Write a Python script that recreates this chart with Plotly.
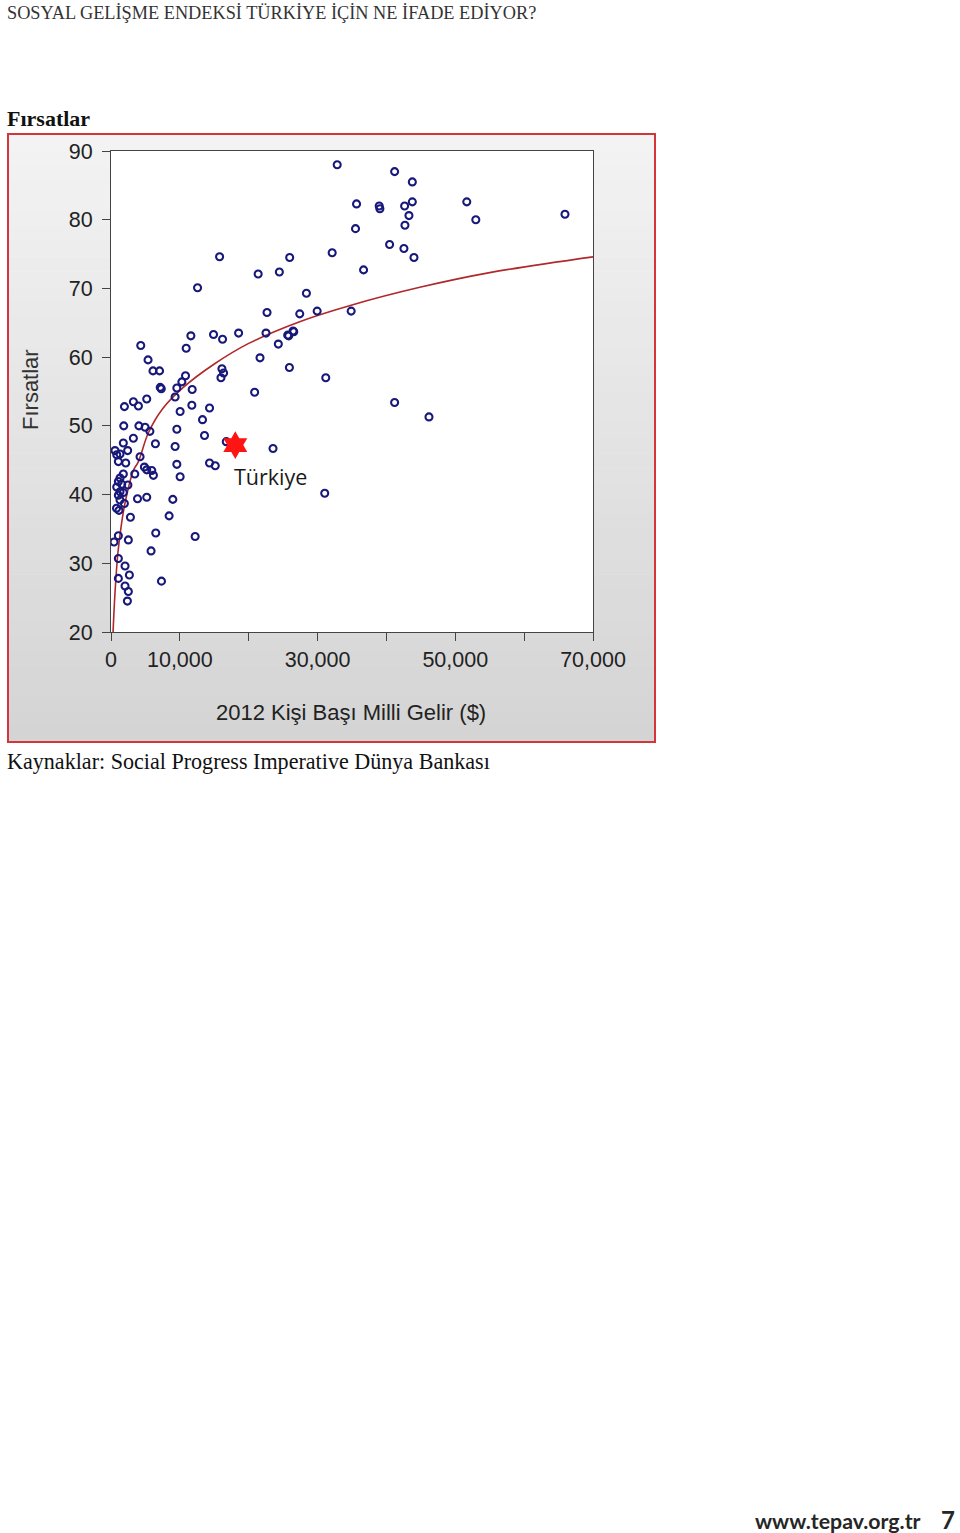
import plotly.graph_objects as go

# ---------------- data ----------------
gni = [32850, 41190, 43760, 35660, 38950, 39050, 42640, 43760, 43270, 42690,
       51670, 52980, 65930, 35510, 40460, 42540, 44000, 32120, 25950, 24450,
       36680, 28380, 27410, 29940, 34880, 26440, 25660, 15770, 12570, 21370,
       22660, 4320, 11600, 14890, 16200, 18530, 22510, 24300, 10920, 5380,
       6100, 7050, 21640, 25910, 16110, 16350, 15970, 10820, 10290, 7150,
       7300, 9560, 11790, 9310, 20860, 5190, 3250, 3980, 1950, 10040,
       11740, 14310, 13290, 1850, 4050, 4950, 5650, 9560, 13580, 3250,
       16740, 23530, 6450, 1790, 580, 830, 1310, 2420, 1070, 2140,
       4220, 9310, 9560, 14310, 15140, 4850, 5190, 5920, 6160, 3450,
       10040, 1790, 1310, 1070, 1560, 2450, 830, 1310, 1790, 1070,
       3850, 5190, 8980, 1310, 1940, 800, 1160, 2820, 8440, 6500,
       12220, 1070, 440, 2520, 5820, 1070, 2040, 2670, 1070, 7330,
       2040, 2520, 2380, 31190, 41190, 46180, 31040, 25810, 26540]
firsat = [88.0, 87.0, 85.5, 82.3, 82.0, 81.6, 82.0, 82.6, 80.6, 79.2,
          82.6, 80.0, 80.8, 78.7, 76.4, 75.8, 74.5, 75.2, 74.5, 72.4,
          72.7, 69.3, 66.3, 66.7, 66.7, 63.8, 63.2, 74.6, 70.1, 72.1,
          66.5, 61.7, 63.1, 63.3, 62.6, 63.5, 63.5, 61.9, 61.3, 59.6,
          58.0, 58.0, 59.9, 58.5, 58.3, 57.7, 57.0, 57.3, 56.4, 55.6,
          55.4, 55.5, 55.3, 54.2, 54.9, 53.9, 53.5, 52.9, 52.8, 52.1,
          53.0, 52.6, 50.9, 50.0, 50.0, 49.8, 49.2, 49.5, 48.6, 48.2,
          47.7, 46.7, 47.4, 47.5, 46.4, 45.8, 45.9, 46.4, 44.8, 44.6,
          45.5, 47.0, 44.4, 44.6, 44.2, 44.0, 43.6, 43.5, 42.8, 43.0,
          42.6, 43.0, 42.4, 41.9, 41.5, 41.4, 41.1, 40.4, 40.3, 39.9,
          39.4, 39.6, 39.3, 39.2, 38.7, 38.0, 37.7, 36.7, 36.9, 34.4,
          33.9, 34.0, 33.1, 33.4, 31.8, 30.7, 29.6, 28.3, 27.8, 27.4,
          26.7, 25.9, 24.5, 57.0, 53.4, 51.3, 40.2, 63.1, 63.7]

# fitted trend curve
trend_x = [300, 580, 1000, 1560, 2040, 3250, 3980, 5430, 7500, 10500,
           15000, 20000, 27500, 35000, 45000, 55000, 70000]
trend_y = [20.0, 25.7, 31.5, 36.0, 38.8, 43.5, 44.8, 49.0, 52.5, 55.6,
           59.0, 62.0, 65.2, 67.6, 70.2, 72.3, 74.6]

turkey_x = [18050]
turkey_y = [47.2]
turkey_label = "Türkiye"

x_ticks = [0, 10000, 20000, 30000, 40000, 50000, 60000, 70000]
x_ticktext = ["0", "10,000", "", "30,000", "", "50,000", "", "70,000"]
y_ticks = [20, 30, 40, 50, 60, 70, 80, 90]

# ---------------- geometry helpers ----------------
W, H = 960, 1533


def px(x):
    return x / W


def py(y):
    return 1 - y / H


fig = go.Figure()

fig.add_trace(go.Scatter(
    x=trend_x, y=trend_y, mode="lines", line=dict(color="#b0282c", width=1.6, shape="spline"),
    hoverinfo="skip"))

fig.add_trace(go.Scatter(
    x=gni, y=firsat, mode="markers",
    marker=dict(symbol="circle-open", size=7, color="#18187a", line=dict(width=2.1, color="#18187a"))))

fig.add_trace(go.Scatter(
    x=turkey_x, y=turkey_y, mode="markers",
    marker=dict(symbol="hexagram", size=21, color="#ff1414", line=dict(width=0))))

# background gradient bands
shapes = []
top, bot = 135, 741
n = 40
for i in range(n):
    y0 = top + (bot - top) * i / n
    y1 = top + (bot - top) * (i + 1) / n + 0.5
    g = int(round(243 - (243 - 212) * (i + 0.5) / n))
    shapes.append(dict(type="rect", xref="paper", yref="paper",
                       x0=px(9), x1=px(654), y0=py(y1), y1=py(y0),
                       fillcolor=f"rgb({g},{g},{g})", line=dict(width=0), layer="below"))
# white plot area
shapes.append(dict(type="rect", xref="paper", yref="paper",
                   x0=px(111), x1=px(593), y0=py(632), y1=py(151),
                   fillcolor="white", line=dict(width=0), layer="below"))
# red frame
shapes.append(dict(type="rect", xref="paper", yref="paper",
                   x0=px(8), x1=px(655), y0=py(742), y1=py(134),
                   fillcolor="rgba(0,0,0,0)", line=dict(color="#d3363a", width=2), layer="above"))

P = dict(xref="paper", yref="paper", showarrow=False)
annotations = [
    dict(text="SOSYAL GELİŞME ENDEKSİ TÜRKİYE İÇİN NE İFADE EDİYOR?", x=px(5), y=py(13),
         xanchor="left", yanchor="middle",
         font=dict(family="Liberation Serif", size=18.3, color="#333333"), **P),
    dict(text="<b>Fırsatlar</b>", x=px(5), y=py(118), xanchor="left", yanchor="middle",
         font=dict(family="Liberation Serif", size=22, color="#111111"), **P),
    dict(text="Kaynaklar: Social Progress Imperative Dünya Bankası", x=px(5), y=py(761),
         xanchor="left", yanchor="middle",
         font=dict(family="Liberation Serif", size=22.1, color="#111111"), **P),
    dict(text="<b>www.tepav.org.tr</b>", x=px(923), y=py(1521), xanchor="right", yanchor="middle",
         font=dict(family="Lato", size=21.3, color="#262626"), **P),
    dict(text="<b>7</b>", x=px(957), y=py(1519), xanchor="right", yanchor="middle",
         font=dict(family="Lato", size=24, color="#262626"), **P),
    dict(text="2012 Kişi Başı Milli Gelir ($)", x=px(351), y=py(712), xanchor="center", yanchor="middle",
         font=dict(family="Liberation Sans", size=22, color="#222222"), **P),
    dict(text="Fırsatlar", x=px(30), y=py(390), xanchor="center", yanchor="middle", textangle=-90,
         font=dict(family="Liberation Sans", size=22, color="#333333"), **P),
    dict(text=turkey_label, x=23150, y=42.7, xref="x", yref="y", xanchor="center", yanchor="middle",
         showarrow=False, font=dict(family="Open Sans", size=21.5, color="#1a1a1a")),
]

fig.update_layout(
    width=W, height=H, margin=dict(l=0, r=0, t=0, b=0, pad=0, autoexpand=False),
    paper_bgcolor="white", plot_bgcolor="rgba(0,0,0,0)",
    showlegend=False, shapes=shapes, annotations=annotations,
    xaxis=dict(domain=[px(111), px(593)], range=[0, 70000], tickvals=x_ticks, ticktext=x_ticktext,
               ticks="outside", ticklen=8, tickwidth=1, tickcolor="#444444",
               showline=True, linecolor="#444444", linewidth=1, mirror=True,
               showgrid=False, zeroline=False, automargin=False,
               tickfont=dict(family="Liberation Sans", size=21.5, color="#222222")),
    yaxis=dict(domain=[py(632), py(151)], range=[20, 90], tickvals=y_ticks,
               ticks="outside", ticklen=8, tickwidth=1, tickcolor="#444444",
               showline=True, linecolor="#444444", linewidth=1, mirror=True,
               showgrid=False, zeroline=False, ticklabelstandoff=5, automargin=False,
               tickfont=dict(family="Liberation Sans", size=21.5, color="#222222")),
)

fig.write_html("out.html", config={"displayModeBar": False},
               post_script="document.body.style.margin='0px';")
